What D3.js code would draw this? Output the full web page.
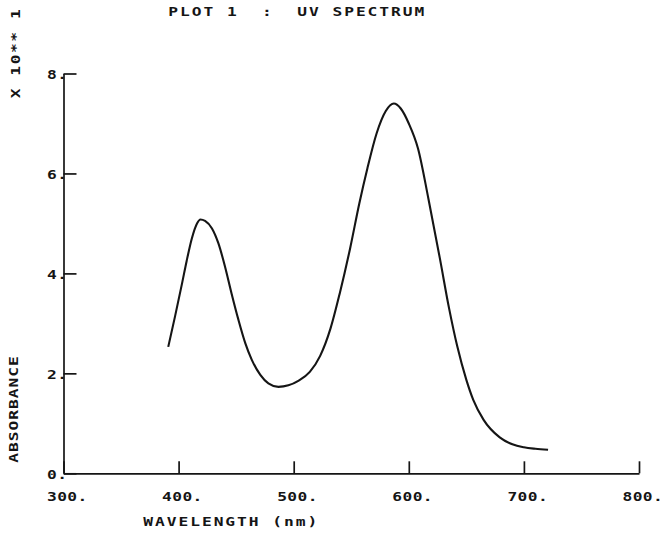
<!DOCTYPE html>
<html>
<head>
<meta charset="utf-8">
<script src="https://cdn.jsdelivr.net/npm/d3@7"></script>
<style>
  body { margin: 0; background: #fff; }
  svg text { font-family: "DejaVu Sans Mono", monospace; font-size: 12.5px; font-weight: bold; fill: #151515; white-space: pre; }
</style>
</head>
<body>
<div id="chart"></div>
<script>
// wavelength (nm) and absorbance (x 10**1)
var wavelength = [391, 397, 403, 407, 411.5, 416, 419, 423, 429, 434.6, 440.4, 446, 452, 458, 463.6, 471, 478, 486.7, 495.4, 504,
    514, 523, 532, 540, 549, 557, 564, 572, 580, 587, 593, 600, 608, 617, 627, 635, 642, 650, 656, 665, 679, 690, 700, 710, 721];
var absorbance = [2.53, 3.15, 3.8, 4.25, 4.7, 5.0, 5.08, 5.05, 4.9, 4.6, 4.13, 3.6, 3.07, 2.6, 2.27, 1.97, 1.8, 1.73, 1.76, 1.85,
    2.03, 2.35, 2.9, 3.6, 4.5, 5.4, 6.1, 6.8, 7.25, 7.4, 7.3, 7.0, 6.5, 5.5, 4.3, 3.3, 2.55, 1.87, 1.47, 1.07, 0.72, 0.58, 0.52, 0.49, 0.47];

var xTicks = [300, 400, 500, 600, 700, 800];
var yTicks = [0, 2, 4, 6, 8];

var title = "PLOT 1  :  UV SPECTRUM";
var xLabel = "WAVELENGTH (nm)";
var yLabel = "ABSORBANCE";
var yScaleLabel = "X 10** 1";

var width = 663, height = 535;
var margin = { top: 73.5, right: 24, bottom: 61.7, left: 63.5 };
var stretch = 1.3; // plotter letters are wider than the mono font

var svg = d3.select("#chart").append("svg")
    .attr("width", width)
    .attr("height", height);

var x = d3.scaleLinear()
    .domain([300, 800])
    .range([margin.left, width - margin.right]);

var y = d3.scaleLinear()
    .domain([0, 8])
    .range([height - margin.bottom, margin.top]);

var fmt = function(d){ return d + "."; };

// x axis, ticks point up into the plot
var gx = svg.append("g")
    .attr("transform", "translate(0," + y(0) + ")")
    .call(d3.axisBottom(x).tickValues(xTicks).tickSize(-12).tickSizeOuter(0).tickFormat(fmt));

gx.selectAll("text")
    .attr("text-anchor", "start")
    .attr("x", 0)
    .attr("y", 0)
    .attr("dy", 0)
    .attr("transform", "translate(-17,28) scale(" + stretch + ",1)")
    .style("letter-spacing", "0.3px");

// y axis, ticks point right
var gy = svg.append("g")
    .attr("transform", "translate(" + x(300) + ",0)")
    .call(d3.axisLeft(y).tickValues(yTicks).tickSize(-13).tickSizeOuter(0).tickFormat(fmt));

gy.selectAll("text")
    .attr("text-anchor", "start")
    .attr("x", 0)
    .attr("y", 0)
    .attr("dy", 0)
    .attr("transform", "translate(-16.5,5) scale(" + stretch + ",1)")
    .style("letter-spacing", "0.4px");

svg.selectAll(".domain, .tick line")
    .attr("stroke", "#151515")
    .attr("stroke-width", 1.7);

svg.append("path")
    .datum(d3.zip(wavelength, absorbance))
    .attr("fill", "none")
    .attr("stroke", "#151515")
    .attr("stroke-width", 2.1)
    .attr("stroke-linejoin", "round")
    .attr("d", d3.line()
        .x(d => x(d[0]))
        .y(d => y(d[1]))
        .curve(d3.curveMonotoneX));

var label = function(str, tx, ty, rot, spacing){
    svg.append("text")
        .attr("transform", "translate(" + tx + "," + ty + ") rotate(" + rot + ") scale(" + stretch + ",1)")
        .style("letter-spacing", spacing + "px")
        .text(str);
};

label(title, 168.3, 15.7, 0, 1.5);
label(xLabel, 143.3, 525.7, 0, 1.5);
label(yLabel, 18, 462.7, -90, 0.75);
label(yScaleLabel, 19.5, 98.3, -90, 1.2);
</script>
</body>
</html>
